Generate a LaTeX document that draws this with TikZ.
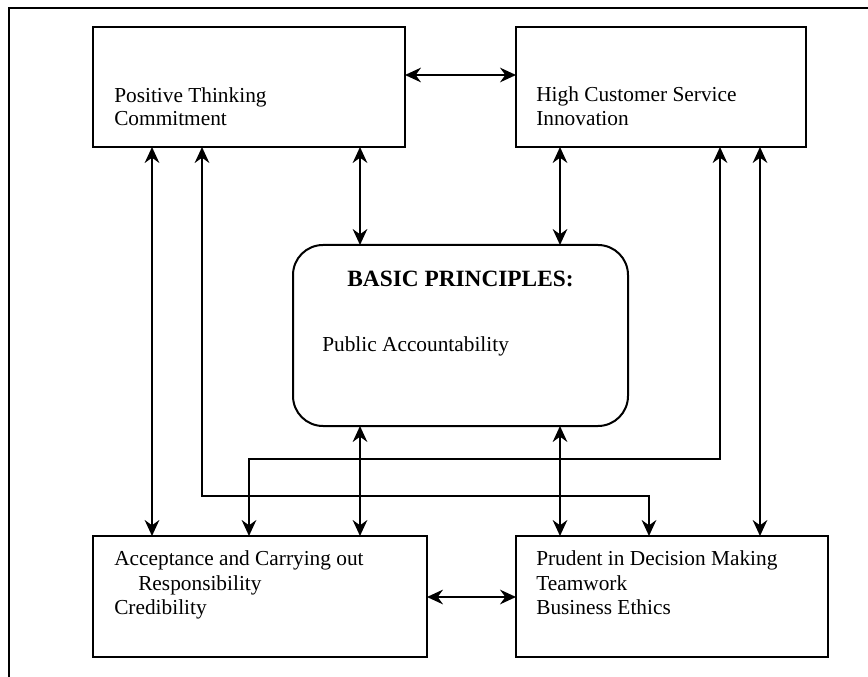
\documentclass[tikz,border=0pt]{standalone}
\usepackage{fontspec}
\setmainfont{Liberation Serif}
\usetikzlibrary{arrows.meta,calc}
\begin{document}
\begin{tikzpicture}[x=0.75pt,y=-0.75pt,
  >={Stealth[length=12pt,width=11pt,inset=4pt]},
  box/.style={draw,line width=1.5pt,inner sep=0pt,outer sep=0pt},
  conn/.style={line width=1.2pt,<->},
  framestyle/.style={line width=1.9pt},
  txt/.style={inner sep=0pt,anchor=base west,font=\fontsize{16}{18}\selectfont},
  head/.style={inner sep=0pt,anchor=base,font=\fontsize{17.5}{20}\selectfont\bfseries}]
\useasboundingbox (0,0) rectangle (868,677);
% open frame (top and left)
\coordinate (f1) at (9,677);
\coordinate (f2) at (9,8);
\coordinate (f3) at (868,8);
\draw[framestyle] (f1) -- (f2) -- (f3);
% boxes
\node[box,minimum width=234pt,minimum height=90pt] (tl) at (249,87) {};
\node[box,minimum width=217.5pt,minimum height=90pt] (tr) at (661,87) {};
\node[box,rounded corners=22.5pt,minimum width=251.25pt,minimum height=135.75pt] (c) at (460.5,335.5) {};
\node[box,minimum width=250.5pt,minimum height=90.75pt] (bl) at (260,596.5) {};
\node[box,minimum width=234pt,minimum height=90.75pt] (br) at (672,596.5) {};
% texts
\node[txt] (t1) at (114,103) {Positive Thinking};
\node[txt] (t2) at (114,126) {Commitment};
\node[txt] (t3) at (536,102) {High Customer Service};
\node[txt] (t4) at (536,126) {Innovation};
\node[head] (t5) at (460.5,287) {BASIC PRINCIPLES:};
\node[txt] (t6) at (322,352) {Public Accountability};
\node[txt] (t7) at (114,565) {Acceptance and Carrying out};
\node[txt] (t8) at (138,590) {Responsibility};
\node[txt] (t9) at (114,614) {Credibility};
\node[txt] (t10) at (536,565) {Prudent in Decision Making};
\node[txt] (t11) at (536,590) {Teamwork};
\node[txt] (t12) at (536,614) {Business Ethics};
% helper coordinates
\coordinate (x152) at (152,0);
\coordinate (x202) at (202,0);
\coordinate (x249) at (249,0);
\coordinate (x360) at (360,0);
\coordinate (x560) at (560,0);
\coordinate (x649) at (649,0);
\coordinate (x720) at (720,0);
\coordinate (x760) at (760,0);
\coordinate (y75) at (0,75);
\coordinate (y459) at (0,459);
\coordinate (y496) at (0,496);
\coordinate (y597) at (0,597);
% connectors
\draw[conn] (tl.east |- y75) -- (tr.west |- y75);
\draw[conn] (bl.east |- y597) -- (br.west |- y597);
\draw[conn] (tl.south -| x152) -- (bl.north -| x152);
\draw[conn] (tl.south -| x202) |- (x649 |- y496) -- (br.north -| x649);
\draw[conn] (tl.south -| x360) -- (c.north -| x360);
\draw[conn] (tr.south -| x560) -- (c.north -| x560);
\draw[conn] (tr.south -| x720) |- (x249 |- y459) -- (bl.north -| x249);
\draw[conn] (tr.south -| x760) -- (br.north -| x760);
\draw[conn] (c.south -| x360) -- (bl.north -| x360);
\draw[conn] (c.south -| x560) -- (br.north -| x560);
\end{tikzpicture}
\end{document}
